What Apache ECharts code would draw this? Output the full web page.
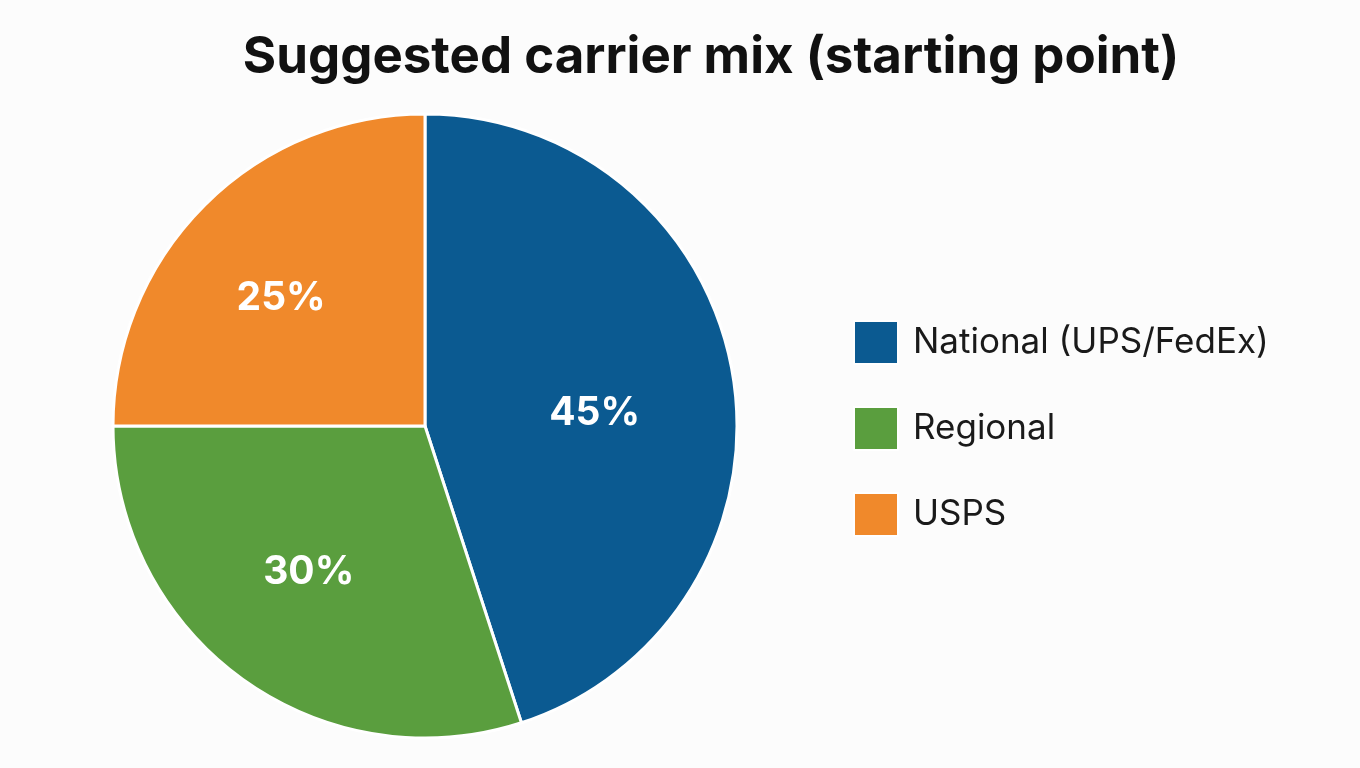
<!DOCTYPE html>
<html>
<head>
<meta charset="utf-8">
<script src="https://cdn.jsdelivr.net/npm/echarts@6/dist/echarts.min.js"></script>
<style>
  html, body { margin: 0; padding: 0; background: #fcfcfc; }
  #chart { width: 1360px; height: 768px; }
</style>
</head>
<body>
<div id="chart"></div>
<script>
// carrier split, clockwise from 12 o'clock
const carriers = ["National (UPS/FedEx)", "Regional", "USPS"];
const shares = [45, 30, 25];
const colors = ["#0b5a91", "#5a9e3e", "#f0892b"];

const FONT = "Inter, Lato, sans-serif";
const center = [425, 426];
const R = 312;

const slices = carriers.map((name, i) => ({
  name, value: shares[i], itemStyle: { color: colors[i] }
}));

const valueStyle = { fontFamily: FONT, fontSize: 39, fontWeight: "bold", color: "#ffffff" };

// small hand nudges so the percent labels sit where the original has them
function labelFor(i) {
  if (i === 0) {
    return {
      formatter: "{gap|}\n{v|{c}%}",
      rich: { gap: { height: 32, lineHeight: 32 }, v: Object.assign({ padding: [0, 18, 0, 0] }, valueStyle) }
    };
  }
  if (i === 1) return { padding: [0, 20, 0, 0] };
  return { padding: [0, 32, 0, 0] };
}

const chart = echarts.init(document.getElementById("chart"), null, { renderer: "canvas" });
chart.setOption({
  backgroundColor: "#fcfcfc",
  animation: false,
  title: {
    text: "Suggested carrier mix (starting point)",
    left: 706, top: 27, textAlign: "center",
    textStyle: { fontFamily: FONT, fontSize: 51, fontWeight: "bold", color: "#111" }
  },
  legend: {
    orient: "vertical",
    left: 848, top: 315,
    icon: "rect",
    itemWidth: 44, itemHeight: 43, itemGap: 41,
    data: carriers,
    textStyle: { fontFamily: FONT, fontSize: 35, color: "#1a1a1a", padding: [0, 0, 0, 10] },
    selectedMode: false
  },
  series: [
    {
      // the visible pie
      type: "pie",
      center, radius: R,
      startAngle: 90, clockwise: true,
      itemStyle: { borderColor: "#ffffff", borderWidth: 3 },
      label: { show: false }, labelLine: { show: false },
      data: slices
    },
    {
      // transparent copy, only used to place the percent labels a bit further out
      type: "pie",
      center, radius: [R * 0.14, R],
      startAngle: 90, clockwise: true,
      silent: true, legendHoverLink: false,
      itemStyle: { color: "rgba(0,0,0,0)" },
      label: Object.assign({ show: true, position: "inside", formatter: "{c}%" }, valueStyle),
      labelLine: { show: false },
      data: carriers.map((name, i) => ({
        name, value: shares[i], itemStyle: { color: "rgba(0,0,0,0)" },
        label: labelFor(i)
      }))
    }
  ]
});
</script>
</body>
</html>
